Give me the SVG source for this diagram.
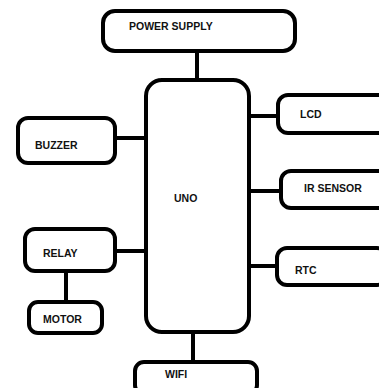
<svg xmlns="http://www.w3.org/2000/svg" width="379" height="388" viewBox="0 0 379 388">
<style>
.box{fill:#fff;stroke:#000;stroke-width:4}
.ln{stroke:#000;stroke-width:4;fill:none}
text{font-family:"Liberation Sans",Arial,sans-serif;font-weight:bold;font-size:10.5px;fill:#111}
</style>
<rect width="379" height="388" fill="#fff"/>
<g id="connectors">
<line class="ln" x1="197" y1="50" x2="197" y2="82"/>
<line class="ln" x1="249" y1="116" x2="278" y2="116"/>
<line class="ln" x1="114" y1="138" x2="146" y2="138"/>
<line class="ln" x1="249" y1="191" x2="281" y2="191"/>
<line class="ln" x1="114" y1="251" x2="146" y2="251"/>
<line class="ln" x1="249" y1="266" x2="277" y2="266"/>
<line class="ln" x1="66" y1="270" x2="66" y2="302"/>
<line class="ln" x1="193" y1="331" x2="193" y2="362"/>
</g>
<g id="power"><rect class="box" x="103" y="11" width="192" height="40" rx="12"/><text x="129" y="30">POWER SUPPLY</text></g>
<g id="uno"><rect class="box" x="146" y="80" width="103" height="252" rx="16"/><text x="174" y="202">UNO</text></g>
<g id="lcd"><rect class="box" x="278" y="95" width="110" height="38" rx="10"/><text x="300" y="118">LCD</text></g>
<g id="buzzer"><rect class="box" x="18" y="118" width="97" height="45" rx="10"/><text x="35" y="149">BUZZER</text></g>
<g id="ir"><rect class="box" x="281" y="171" width="110" height="37" rx="10"/><text x="304" y="192">IR SENSOR</text></g>
<g id="relay"><rect class="box" x="25" y="229" width="90" height="42" rx="10"/><text x="43" y="257">RELAY</text></g>
<g id="rtc"><rect class="box" x="277" y="248" width="110" height="37" rx="10"/><text x="295" y="274">RTC</text></g>
<g id="motor"><rect class="box" x="29" y="302" width="73" height="31" rx="9"/><text x="43" y="323">MOTOR</text></g>
<g id="wifi"><rect class="box" x="135" y="362" width="122" height="32" rx="9"/><text x="165" y="378">WIFI</text></g>
</svg>
